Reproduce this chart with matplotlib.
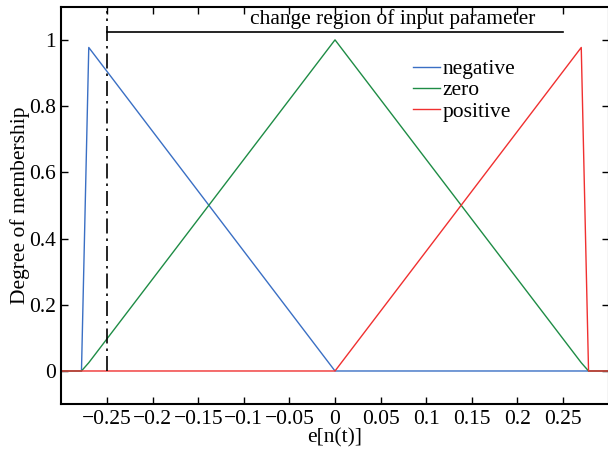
import numpy as np
import matplotlib.pyplot as plt
from matplotlib.ticker import FuncFormatter

# membership functions, sampled breakpoints
x_neg = [-0.3, -0.278, -0.27, 0.0, 0.3]
y_neg = [0.0, 0.0, 0.977, 0.0, 0.0]

x_zero = [-0.3, -0.278, -0.27, 0.0, 0.27, 0.278, 0.3]
y_zero = [0.0, 0.0, 0.025, 1.0, 0.025, 0.0, 0.0]

x_pos = [-0.3, 0.0, 0.27, 0.278, 0.3]
y_pos = [0.0, 0.0, 0.977, 0.0, 0.0]

region = [-0.25, 0.25]
region_label = "change region of input parameter"

plt.rcParams['font.family'] = ['Liberation Serif', 'DejaVu Serif']

FS = 15.5

fig = plt.figure(figsize=(6.08, 4.5), dpi=100)
ax = fig.add_axes([0.101, 0.102, 0.900, 0.883])

ax.plot(x_neg, y_neg, color='#3a6fc4', lw=1.0, label='negative')
ax.plot(x_zero, y_zero, color='#1e8c45', lw=1.0, label='zero')
ax.plot(x_pos, y_pos, color='#f03030', lw=1.0, label='positive')

# input range marker
ax.plot([region[0], region[0]], [0.0, 1.088], color='black', lw=1.2,
        linestyle=(0, (9, 3, 1.5, 3)))
ax.plot([region[0], region[1]], [1.024, 1.024], color='black', lw=1.2)
ax.text(0.063, 1.032, region_label, ha='center', va='bottom', fontsize=FS)

ax.set_xlim(-0.3, 0.3)
ax.set_ylim(-0.1, 1.1)
ax.set_xticks(np.arange(-0.25, 0.2501, 0.05))
ax.set_yticks([0, 0.2, 0.4, 0.6, 0.8, 1.0])


def fmt(v, _pos):
    s = f"{v:.2f}".rstrip('0').rstrip('.')
    if s in ('-0', '0'):
        return '0'
    return s.replace('-', '\u2212')


ax.xaxis.set_major_formatter(FuncFormatter(fmt))
ax.yaxis.set_major_formatter(FuncFormatter(fmt))
ax.tick_params(direction='in', length=5, width=1.0, top=True, right=True,
               labelsize=FS)
ax.tick_params(axis='x', pad=4)
ax.tick_params(axis='y', pad=4)
for sp in ax.spines.values():
    sp.set_linewidth(1.5)

ax.set_xlabel('e[n(t)]', fontsize=FS, labelpad=0)
ax.set_ylabel('Degree of membership', fontsize=FS, labelpad=-1)

ax.legend(loc='upper left', bbox_to_anchor=(0.643, 0.868), frameon=False,
          fontsize=FS, handlelength=1.25, handletextpad=0.1, labelspacing=0.05,
          borderpad=0.0, borderaxespad=0.0)

fig.savefig('out.png', dpi=100)
